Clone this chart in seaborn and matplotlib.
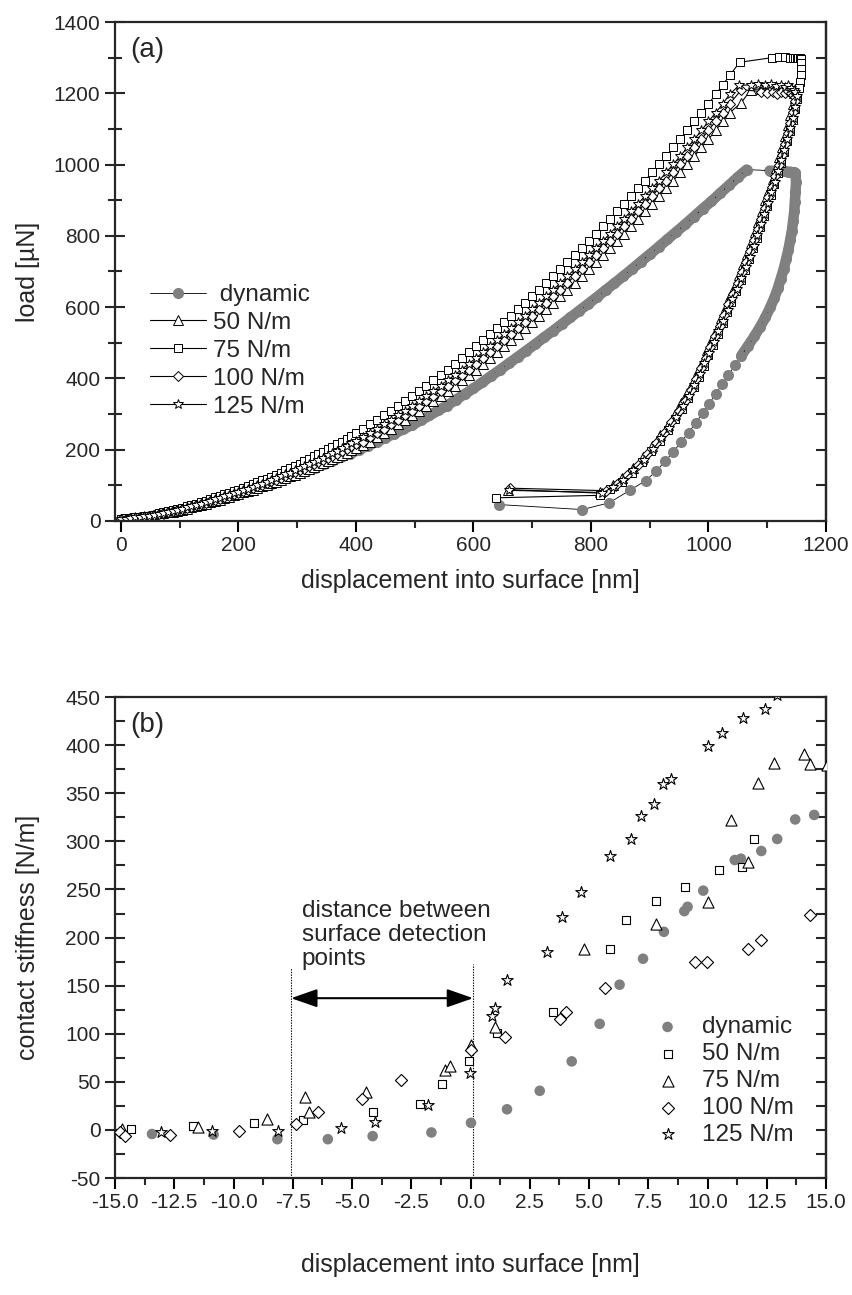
import matplotlib
matplotlib.use("Agg")
import matplotlib.pyplot as plt
import seaborn as sns
from matplotlib.ticker import MultipleLocator, FormatStrFormatter

# ---------------- panel (a): load vs displacement ----------------
d_load_a = [0, 8, 16, 24, 32, 40, 48, 56, 64, 72, 80, 88, 96, 104, 112, 120, 128, 136, 144, 152, 160,
            168, 176, 184, 192, 200, 208, 216, 224, 232, 240, 248, 256, 264, 272, 280, 288, 296, 304,
            312, 320, 328, 336, 344, 352, 360, 368, 376, 384, 392, 400]
d_load_b = [412, 424, 436, 448, 460, 472, 484, 496, 508, 520, 532, 544, 556, 568, 580, 592, 604, 616,
            628, 640, 652, 664, 676, 688, 700, 712, 724, 736, 748, 760, 772, 784, 796, 808, 820, 832,
            844, 856, 868, 880, 892, 904, 916, 928, 940, 952, 964, 976, 988, 1000, 1012, 1024, 1036]

load_50_a = [5, 6, 8, 9, 11, 12, 14, 15, 18, 21, 24, 26, 29, 32, 35, 38, 42, 46, 49, 53, 56, 60, 64, 68,
             72, 76, 80, 84, 88, 92, 97, 101, 106, 110, 115, 120, 125, 130, 135, 141, 146, 151, 156,
             162, 168, 174, 180, 186, 192, 198, 205]
load_50_b = [212, 223, 235, 246, 259, 271, 283, 296, 309, 323, 337, 350, 365, 380, 395, 410, 425, 441,
             457, 473, 490, 507, 524, 541, 558, 576, 594, 612, 630, 649, 668, 687, 706, 726, 746, 765,
             785, 806, 827, 848, 869, 890, 912, 934, 955, 978, 1001, 1024, 1048, 1071, 1096, 1121, 1145]
load_75_a = [5, 7, 8, 10, 11, 13, 15, 17, 21, 24, 27, 30, 33, 37, 41, 45, 49, 53, 57, 61, 66, 70, 75,
             79, 84, 88, 93, 98, 103, 109, 114, 119, 124, 130, 136, 142, 148, 154, 160, 167, 174, 181,
             187, 194, 201, 208, 216, 223, 231, 239, 246]
load_75_b = [259, 271, 283, 296, 309, 323, 337, 350, 365, 380, 395, 410, 425, 441, 457, 473, 490, 507,
             524, 541, 558, 576, 594, 612, 630, 649, 668, 687, 706, 726, 746, 765, 785, 806, 827, 848,
             869, 890, 912, 934, 955, 978, 1001, 1024, 1048, 1071, 1096, 1121, 1145, 1170, 1197, 1223,
             1250]
load_100_a = [5, 6, 8, 9, 11, 12, 14, 16, 19, 22, 24, 27, 30, 33, 37, 40, 44, 48, 51, 55, 59, 63, 67,
              71, 75, 79, 83, 87, 92, 97, 101, 106, 111, 116, 120, 126, 131, 137, 142, 147, 153, 159,
              165, 171, 177, 183, 189, 196, 202, 209, 216]
load_100_b = [223, 235, 246, 259, 271, 283, 296, 309, 323, 337, 350, 365, 380, 395, 410, 425, 441, 457,
              473, 490, 507, 524, 541, 558, 576, 594, 612, 630, 649, 668, 687, 706, 726, 746, 765, 785,
              806, 827, 848, 869, 890, 912, 934, 955, 978, 1001, 1024, 1048, 1071, 1096, 1121, 1145,
              1170]
load_125_a = [5, 6, 8, 10, 11, 13, 14, 16, 19, 22, 25, 28, 31, 34, 38, 42, 46, 49, 53, 57, 61, 65, 69,
              73, 78, 82, 86, 91, 96, 100, 105, 110, 115, 120, 125, 131, 136, 142, 148, 153, 159, 165,
              172, 178, 184, 191, 197, 204, 211, 218, 225]
load_125_b = [235, 246, 259, 271, 283, 296, 309, 323, 337, 350, 365, 380, 395, 410, 425, 441, 457, 473,
              490, 507, 524, 541, 558, 576, 594, 612, 630, 649, 668, 687, 706, 726, 746, 765, 785, 806,
              827, 848, 869, 890, 912, 934, 955, 978, 1001, 1024, 1048, 1071, 1096, 1121, 1145, 1170,
              1197]

peak_d_50 = [1056, 1072, 1090, 1102, 1113, 1122, 1130, 1137, 1142, 1146, 1148]
peak_L_50 = [1174, 1210, 1213, 1214, 1212, 1213, 1211, 1212, 1208, 1200, 1188]
peak_d_75 = [1053, 1108, 1120, 1130, 1138, 1144, 1148, 1151, 1153, 1155, 1157, 1158, 1158, 1157, 1156, 1154]
peak_L_75 = [1287, 1300, 1301, 1301, 1300, 1300, 1300, 1299, 1299, 1298, 1296, 1285, 1268, 1250, 1232, 1215]
peak_d_100 = [1056, 1090, 1100, 1109, 1117, 1124, 1130, 1135, 1140, 1144, 1147]
peak_L_100 = [1210, 1205, 1201, 1204, 1199, 1203, 1200, 1206, 1202, 1196, 1190]
peak_d_125 = [1052, 1072, 1084, 1096, 1106, 1115, 1123, 1130, 1136, 1141, 1145, 1147]
peak_L_125 = [1222, 1224, 1226, 1222, 1225, 1221, 1223, 1219, 1222, 1216, 1210, 1205]

un_d_50 = [1143, 1139, 1135, 1130, 1125, 1120, 1115, 1109, 1103, 1097, 1091, 1085, 1079, 1073, 1066,
           1059, 1052, 1045, 1037, 1029, 1022, 1014, 1006, 998, 990, 982, 973, 964, 954, 943, 931,
           918, 904, 889, 872, 853, 837, 816, 658]
un_L_50 = [1170, 1140, 1110, 1080, 1050, 1020, 990, 960, 930, 900, 870, 840, 810, 780, 750, 720, 690,
           660, 630, 600, 570, 540, 510, 480, 450, 420, 390, 360, 330, 300, 270, 240, 210, 180, 150,
           120, 100, 80, 86]
un_d_75 = [1151, 1147, 1143, 1139, 1134, 1129, 1124, 1118, 1112, 1106, 1100, 1094, 1088, 1082, 1076,
           1069, 1062, 1055, 1047, 1039, 1032, 1024, 1016, 1008, 1000, 992, 984, 975, 965, 955, 943,
           931, 917, 903, 887, 869, 852, 833, 815, 638]
un_L_75 = [1185, 1155, 1125, 1095, 1065, 1035, 1005, 975, 945, 915, 885, 855, 825, 795, 765, 735, 705,
           675, 645, 615, 585, 555, 525, 495, 465, 435, 405, 375, 345, 315, 285, 255, 225, 195, 165,
           135, 110, 90, 72, 65]
un_d_100 = [1147, 1143, 1139, 1135, 1130, 1125, 1120, 1114, 1108, 1102, 1096, 1090, 1084, 1078, 1071,
            1064, 1057, 1050, 1042, 1034, 1027, 1019, 1011, 1003, 995, 987, 979, 970, 960, 949, 937,
            925, 911, 896, 880, 861, 845, 825, 663]
un_L_100 = [1178, 1148, 1118, 1088, 1058, 1028, 998, 968, 938, 908, 878, 848, 818, 788, 758, 728, 698,
            668, 638, 608, 578, 548, 518, 488, 458, 428, 398, 368, 338, 308, 278, 248, 218, 188, 158,
            128, 105, 85, 92]
un_d_125 = [1151, 1147, 1143, 1139, 1134, 1129, 1124, 1118, 1113, 1107, 1101, 1095, 1089, 1083, 1077,
            1070, 1063, 1056, 1048, 1040, 1033, 1025, 1017, 1009, 1001, 993, 985, 976, 967, 957, 945,
            933, 920, 906, 890, 872, 855, 837, 819, 661]
un_L_125 = [1192, 1162, 1132, 1102, 1072, 1042, 1012, 982, 952, 922, 892, 862, 832, 802, 772, 742, 712,
            682, 652, 622, 592, 562, 532, 502, 472, 442, 412, 382, 352, 322, 292, 262, 232, 202, 172,
            142, 115, 95, 78, 88]

dyn_d_load = [0, 15, 30, 45, 60, 75, 90, 105, 120, 135, 150, 165, 180, 195, 210, 225, 240, 255, 270,
              285, 300, 315, 330, 345, 360, 375, 390, 405, 420, 435, 450, 465, 480, 495, 510, 525, 540,
              555, 570, 585, 600, 615, 630, 645, 660, 675, 690, 705, 720, 735, 750, 765, 780, 795, 810,
              825, 840, 855, 870, 885, 900, 915, 930, 945, 960, 975, 990, 1005, 1020, 1035, 1050, 1065]
dyn_L_load = [2, 5, 8, 11, 16, 21, 26, 32, 39, 45, 52, 59, 66, 74, 81, 89, 97, 105, 114, 122, 131, 140,
              150, 159, 169, 179, 189, 200, 211, 222, 233, 245, 257, 269, 282, 296, 310, 324, 340, 356,
              372, 389, 407, 424, 442, 460, 478, 496, 515, 533, 552, 571, 590, 609, 628, 648, 667, 687,
              707, 728, 748, 769, 790, 811, 832, 854, 876, 897, 920, 942, 965, 986]
dyn_d_hold = [1104, 1112, 1119, 1125, 1130, 1135, 1139, 1142, 1145, 1147]
dyn_L_hold = [983, 982, 982, 981, 981, 980, 980, 979, 978, 977]
dyn_d_un = [1148, 1149, 1148, 1147, 1146, 1144, 1142, 1139, 1136, 1132, 1128, 1123, 1118, 1112, 1105,
            1097, 1088, 1078, 1067, 1056, 1045, 1034, 1023, 1012, 1001, 990, 978, 966, 953, 940, 926,
            911, 893, 866, 831, 785, 644]
dyn_L_un = [976, 950, 923, 896, 869, 842, 815, 788, 761, 734, 707, 680, 653, 626, 599, 572, 545, 518,
            491, 464, 437, 410, 383, 356, 329, 302, 275, 248, 221, 194, 167, 140, 113, 86, 51, 32, 46]

# ---------------- panel (b): contact stiffness ----------------
b_dyn_x = [-13.44, -10.84, -8.15, -6.02, -4.13, -1.65, 0.02, 1.54, 2.92, 4.27, 5.45, 6.29, 7.28, 8.16,
           9.02, 9.16, 9.82, 11.15, 11.41, 12.27, 12.94, 13.7, 14.5]
b_dyn_y = [-4.2, -4.8, -9.6, -9.6, -6.4, -2.6, 7.4, 21.5, 40.7, 71.3, 110.3, 151, 178, 206, 227.5, 232,
           248.8, 280.6, 282, 290, 302.5, 322.8, 327.5]
b_50_x = [-14.31, -11.71, -9.12, -7.05, -4.13, -2.14, -1.21, -0.05, 1.11, 3.5, 5.89, 6.57, 7.82, 9.04,
          10.47, 11.47, 11.97]
b_50_y = [1.0, 3.8, 7.1, 10.3, 18.3, 26.6, 47.8, 71.3, 100.6, 122.8, 187.8, 218, 238.4, 253, 270.6,
          273.4, 302.5]
b_75_x = [-14.7, -11.49, -8.57, -7.0, -6.82, -4.41, -1.09, -0.85, 0.0, 1.05, 4.77, 7.82, 10.0, 11.0,
          11.7, 12.14, 12.8, 14.06, 14.34, 15.05]
b_75_y = [1.0, 3.2, 11.2, 34.3, 18.6, 39.4, 61.9, 66.6, 88, 107, 188, 214, 237, 322, 279, 361, 382,
          391, 380, 379]
b_100_x = [-14.77, -14.59, -12.68, -9.76, -7.35, -6.43, -4.59, -2.94, 0.0, 1.45, 3.78, 4.04, 5.69, 9.46,
           9.96, 11.71, 12.27, 14.34]
b_100_y = [-1.6, -6.4, -4.8, -1.0, 6.4, 18.3, 32, 51.6, 83, 96.9, 115, 122.8, 147.8, 175, 175, 188.4,
           197.8, 223.4]
b_125_x = [-13.05, -10.91, -8.11, -5.47, -4.02, -1.79, -0.01, 0.91, 1.05, 1.54, 3.24, 3.84, 4.67, 5.87,
           6.79, 7.18, 7.76, 8.12, 8.48, 10.01, 10.61, 11.51, 12.41, 12.95]
b_125_y = [-1.6, -1.0, -1.0, 1.6, 8.0, 26.3, 59.7, 118.8, 126.9, 155.6, 185.3, 221.9, 247.2, 285.3, 303,
           326.9, 339, 359.4, 365, 399.4, 412.5, 428.4, 437.5, 452]

surface_points = [-7.57, 0.11]
labels = ["dynamic", "50 N/m", "75 N/m", "100 N/m", "125 N/m"]

# ---------------- style ----------------
sns.set_theme(style="ticks")
plt.rcParams["font.family"] = ["Liberation Sans", "DejaVu Sans"]
plt.rcParams["axes.unicode_minus"] = False
GREY = "#808080"

fig = plt.figure(figsize=(8.52, 12.95), dpi=100)
axa = fig.add_axes([0.135, 0.5977, 0.8345, 0.3853])
axb = fig.add_axes([0.135, 0.0903, 0.8345, 0.3714])

# ---- panel (a)
dyn_x = dyn_d_load + dyn_d_hold + dyn_d_un
dyn_y = dyn_L_load + dyn_L_hold + dyn_L_un
# the densely sampled parts of the dynamic curve form a continuous grey band
for bx, by in [(dyn_d_load, dyn_L_load), (dyn_d_hold + dyn_d_un[:20], dyn_L_hold + dyn_L_un[:20])]:
    sns.lineplot(x=bx, y=by, sort=False, estimator=None, ax=axa, color=GREY, lw=7.6,
                 solid_capstyle="round", solid_joinstyle="round")
sns.lineplot(x=dyn_x, y=dyn_y, sort=False, estimator=None, ax=axa, color="black", lw=0.6,
             marker="o", markersize=8, markerfacecolor=GREY, markeredgecolor=GREY,
             markeredgewidth=0, label=" " + labels[0])
series_a = [
    (d_load_a + d_load_b + peak_d_50 + un_d_50, load_50_a + load_50_b + peak_L_50 + un_L_50, "^", 7.0, labels[1]),
    (d_load_a + d_load_b + peak_d_75 + un_d_75, load_75_a + load_75_b + peak_L_75 + un_L_75, "s", 6.2, labels[2]),
    (d_load_a + d_load_b + peak_d_100 + un_d_100, load_100_a + load_100_b + peak_L_100 + un_L_100, "D", 5.0, labels[3]),
    (d_load_a + d_load_b + peak_d_125 + un_d_125, load_125_a + load_125_b + peak_L_125 + un_L_125, "*", 7.8, labels[4]),
]
for xs, ys, mk, ms, lab in series_a:
    sns.lineplot(x=xs, y=ys, sort=False, estimator=None, ax=axa, color="black", lw=0.8,
                 marker=mk, markersize=ms, markerfacecolor="white", markeredgecolor="black",
                 markeredgewidth=0.7, label=lab)

axa.set_xlim(-10, 1200)
axa.set_ylim(0, 1400)
axa.xaxis.set_major_locator(MultipleLocator(200))
axa.xaxis.set_minor_locator(MultipleLocator(100))
axa.yaxis.set_major_locator(MultipleLocator(200))
axa.yaxis.set_minor_locator(MultipleLocator(100))
axa.set_xlabel("displacement into surface [nm]", fontsize=18)
axa.set_ylabel("load [µN]", fontsize=18)
axa.xaxis.set_label_coords(0.5, -0.12)
axa.xaxis.label.set_va("center")
axa.yaxis.set_label_coords(-0.122, 0.5)
axa.yaxis.label.set_va("center")
axa.text(0.022, 0.944, "(a)", transform=axa.transAxes, fontsize=20, ha="left", va="center")
axa.legend(loc="center left", bbox_to_anchor=(0.035, 0.341), frameon=False, fontsize=17.5,
           handlelength=2.3, handletextpad=0.3, labelspacing=0.24, borderaxespad=0, borderpad=0.4)

# ---- panel (b)
sns.scatterplot(x=b_dyn_x, y=b_dyn_y, ax=axb, marker="o", s=58, color=GREY, edgecolor="none",
                label=labels[0], zorder=3)
sns.scatterplot(x=b_50_x, y=b_50_y, ax=axb, marker="s", s=34, color="white", edgecolor="black",
                linewidth=0.8, label=labels[1], zorder=3)
sns.scatterplot(x=b_75_x, y=b_75_y, ax=axb, marker="^", s=64, color="white", edgecolor="black",
                linewidth=0.8, label=labels[2], zorder=3)
sns.scatterplot(x=b_100_x, y=b_100_y, ax=axb, marker="D", s=38, color="white", edgecolor="black",
                linewidth=0.8, label=labels[3], zorder=3)
sns.scatterplot(x=b_125_x, y=b_125_y, ax=axb, marker="*", s=75, color="white", edgecolor="black",
                linewidth=0.8, label=labels[4], zorder=3)

axb.set_xlim(-15, 15)
axb.set_ylim(-50, 450)
axb.xaxis.set_major_locator(MultipleLocator(2.5))
axb.xaxis.set_minor_locator(MultipleLocator(1.25))
axb.xaxis.set_major_formatter(FormatStrFormatter("%.1f"))
axb.yaxis.set_major_locator(MultipleLocator(50))
axb.yaxis.set_minor_locator(MultipleLocator(25))
axb.set_xlabel("displacement into surface [nm]", fontsize=18)
axb.set_ylabel("contact stiffness [N/m]", fontsize=18)
axb.xaxis.set_label_coords(0.5, -0.181)
axb.xaxis.label.set_va("center")
axb.yaxis.set_label_coords(-0.122, 0.5)
axb.yaxis.label.set_va("center")
axb.text(0.022, 0.941, "(b)", transform=axb.transAxes, fontsize=20, ha="left", va="center")

for xv, ytop in zip(surface_points, [168, 173]):
    axb.plot([xv, xv], [-50, ytop], color="black", lw=0.8, linestyle=(0, (1.2, 1.2)), zorder=2)
axb.annotate("", xy=(surface_points[0], 137), xytext=(surface_points[1], 137),
             arrowprops=dict(arrowstyle="<|-|>,head_length=0.8,head_width=0.28", color="black",
                             lw=1.5, mutation_scale=20, shrinkA=0, shrinkB=0))
axb.text(-7.13, 202.5, "distance between\nsurface detection\npoints", fontsize=17.5,
         ha="left", va="center", linespacing=1.1)
axb.legend(loc="center left", bbox_to_anchor=(0.76, 0.2017), frameon=False, fontsize=17.5,
           handlelength=1.0, handletextpad=0.9, labelspacing=0.2, borderaxespad=0, borderpad=0,
           scatterpoints=1)

# ---- common axis styling
for ax in (axa, axb):
    for sp in ax.spines.values():
        sp.set_linewidth(1.6)
        sp.set_visible(True)
    ax.tick_params(axis="x", which="major", direction="out", length=8, width=1.5, top=False,
                   labelsize=15, pad=3, color="black")
    ax.tick_params(axis="x", which="minor", direction="out", length=5, width=1.5, top=False)
    ax.tick_params(axis="y", which="major", direction="inout", length=15, width=1.5, right=False,
                   labelsize=15, pad=3)
    ax.tick_params(axis="y", which="minor", direction="in", length=7, width=1.5, right=False)
    sec = ax.secondary_yaxis("right")
    sec.yaxis.set_major_locator(MultipleLocator(200 if ax is axa else 50))
    sec.yaxis.set_minor_locator(MultipleLocator(100 if ax is axa else 25))
    sec.tick_params(axis="y", which="both", direction="in", length=7, width=1.5, labelright=False)
    sec.spines["right"].set_linewidth(1.6)

axa.tick_params(axis="y", which="minor", direction="inout", length=10)

fig.savefig("out.png", dpi=100)
